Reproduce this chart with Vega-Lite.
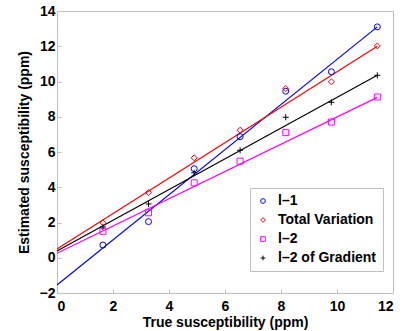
{
  "$schema": "https://vega.github.io/schema/vega-lite/v6.json",
  "width": 336,
  "height": 282,
  "autosize": {"type": "none"},
  "padding": {"left": 57, "top": 11, "right": 24, "bottom": 38},
  "background": "white",
  "config": {
    "font": "Liberation Sans",
    "view": {"stroke": "#bfbfbf", "strokeWidth": 1},
    "axis": {
      "grid": false,
      "domain": false,
      "tickColor": "#bfbfbf",
      "tickSize": -4,
      "labelFont": "Liberation Sans",
      "labelFontWeight": "bold",
      "labelFontSize": 14,
      "labelColor": "black",
      "titleFont": "Liberation Sans",
      "titleFontWeight": "bold",
      "titleFontSize": 14,
      "titleColor": "black"
    },
    "legend": {
      "fillColor": "white", "strokeColor": "#bfbfbf", "padding": 6,
      "labelFont": "Liberation Sans", "labelFontWeight": "bold", "labelFontSize": 14, "labelColor": "black",
      "symbolSize": 22, "symbolStrokeWidth": 1, "rowPadding": 5, "labelOffset": 8
    }
  },
  "datasets": {
    "lines": [
      {"method": "l–1", "x": 0, "y": -1.55},
      {"method": "l–1", "x": 11.44, "y": 13.1},
      {"method": "Total Variation", "x": 0, "y": 0.5},
      {"method": "Total Variation", "x": 11.44, "y": 12.0},
      {"method": "l–2", "x": 0, "y": 0.26},
      {"method": "l–2", "x": 11.44, "y": 9.1},
      {"method": "l–2 of Gradient", "x": 0, "y": 0.38},
      {"method": "l–2 of Gradient", "x": 11.44, "y": 10.35}
    ],
    "points": [
      {"method": "l–1", "x": 1.64, "y": 0.72},
      {"method": "l–1", "x": 3.27, "y": 2.05},
      {"method": "l–1", "x": 4.9, "y": 5.05},
      {"method": "l–1", "x": 6.54, "y": 6.87},
      {"method": "l–1", "x": 8.17, "y": 9.45},
      {"method": "l–1", "x": 9.8, "y": 10.55},
      {"method": "l–1", "x": 11.44, "y": 13.1},
      {"method": "Total Variation", "x": 1.64, "y": 1.98},
      {"method": "Total Variation", "x": 3.27, "y": 3.7},
      {"method": "Total Variation", "x": 4.9, "y": 5.67},
      {"method": "Total Variation", "x": 6.54, "y": 7.24},
      {"method": "Total Variation", "x": 8.17, "y": 9.6},
      {"method": "Total Variation", "x": 9.8, "y": 9.98},
      {"method": "Total Variation", "x": 11.44, "y": 12.02},
      {"method": "l–2", "x": 1.64, "y": 1.5},
      {"method": "l–2", "x": 3.27, "y": 2.55},
      {"method": "l–2", "x": 4.9, "y": 4.25},
      {"method": "l–2", "x": 6.54, "y": 5.48},
      {"method": "l–2", "x": 8.17, "y": 7.1},
      {"method": "l–2", "x": 9.8, "y": 7.7},
      {"method": "l–2", "x": 11.44, "y": 9.12},
      {"method": "l–2 of Gradient", "x": 1.64, "y": 1.75},
      {"method": "l–2 of Gradient", "x": 3.27, "y": 3.05},
      {"method": "l–2 of Gradient", "x": 4.9, "y": 4.82},
      {"method": "l–2 of Gradient", "x": 6.54, "y": 6.1},
      {"method": "l–2 of Gradient", "x": 8.17, "y": 7.97},
      {"method": "l–2 of Gradient", "x": 9.8, "y": 8.82},
      {"method": "l–2 of Gradient", "x": 11.44, "y": 10.35}
    ]
  },
  "layer": [
    {
      "data": {"name": "lines"},
      "mark": {"type": "line", "strokeWidth": 1.2},
      "encoding": {
        "x": {"field": "x", "type": "quantitative", "scale": {"domain": [0, 12], "nice": false},
              "axis": {"title": "True susceptibility (ppm)", "values": [0, 2, 4, 6, 8, 10, 12], "labelPadding": 10, "titlePadding": 2}},
        "y": {"field": "y", "type": "quantitative", "scale": {"domain": [-2, 14], "nice": false, "zero": false},
              "axis": {"title": "Estimated susceptibility (ppm)", "values": [-2, 0, 2, 4, 6, 8, 10, 12, 14], "labelOverlap": false, "labelPadding": 6, "titlePadding": 8}},
        "color": {"field": "method", "type": "nominal",
                  "scale": {"domain": ["l–1", "Total Variation", "l–2", "l–2 of Gradient"], "range": ["#0000ff", "#ff0000", "#ff00ff", "#000000"]}},
        "detail": {"field": "method"}
      }
    },
    {
      "data": {"name": "points"},
      "mark": {"type": "point", "filled": false, "strokeWidth": 1, "size": 36, "opacity": 1},
      "encoding": {
        "x": {"field": "x", "type": "quantitative", "axis": {"title": "True susceptibility (ppm)", "values": [0, 2, 4, 6, 8, 10, 12], "labelPadding": 10, "titlePadding": 2}},
        "y": {"field": "y", "type": "quantitative", "axis": {"title": "Estimated susceptibility (ppm)", "values": [-2, 0, 2, 4, 6, 8, 10, 12, 14], "labelOverlap": false, "labelPadding": 6, "titlePadding": 8}},
        "color": {"field": "method", "type": "nominal", "legend": {"title": null, "orient": "none", "legendX": 193, "legendY": 177}},
        "shape": {"field": "method", "type": "nominal",
                  "scale": {"domain": ["l–1", "Total Variation", "l–2", "l–2 of Gradient"], "range": ["circle", "diamond", "square", "M-1,0H1M0,-1V1"]},
                  "legend": {"title": null, "orient": "none", "legendX": 193, "legendY": 177}}
      }
    }
  ]
}
